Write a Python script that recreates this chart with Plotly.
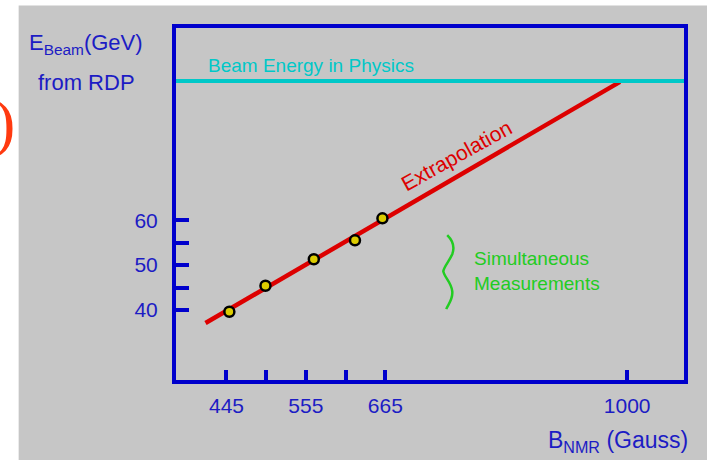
import plotly.graph_objects as go

# Magnetic field (Gauss) vs. beam energy (GeV) from the RDP
meas_B = [449, 499, 566, 623, 661]
meas_E = [39.6, 45.4, 51.3, 55.5, 60.4]

# linear extrapolation up to the physics energy
fit_B = [416, 990]
fit_E = [37.1, 90.8]

physics_E = 91.0

x_tick_vals = [445, 500, 555, 610, 665, 1000]
x_tick_text = ["445", "", "555", "", "665", "1000"]
y_tick_vals = [40, 45, 50, 55, 60]
y_tick_text = ["40", "", "50", "", "60"]

W, H = 707, 460
L, R, T, B = 175.5, 23, 27.5, 80
PW, PH = W - L - R, H - T - B


def px(x):
    return (x - L) / PW


def py(y):
    return (H - B - y) / PH


BLUE = "#0000cc"
TXT_BLUE = "#1c1cc4"
CYAN = "#00c8c8"
RED = "#dd0000"
GREEN = "#22cc22"
FONT = "Liberation Sans, Arial, sans-serif"

fig = go.Figure()

fig.add_trace(go.Scatter(
    x=fit_B, y=fit_E, mode="lines",
    line=dict(color=RED, width=4.5), hoverinfo="skip", showlegend=False,
))
fig.add_trace(go.Scatter(
    x=meas_B, y=meas_E, mode="markers",
    marker=dict(symbol="circle", size=10, color="#dccc00",
                line=dict(color="black", width=2.5)),
    showlegend=False,
))

shapes = [
    # panel background
    dict(type="rect", xref="paper", yref="paper",
         x0=px(18), x1=px(W + 2), y0=py(H + 2), y1=py(5),
         fillcolor="#c6c6c6", line=dict(width=0), layer="below"),
    # physics beam energy
    dict(type="line", xref="paper", yref="y", x0=0, x1=1,
         y0=physics_E, y1=physics_E, line=dict(color=CYAN, width=4)),
    # brace grouping the simultaneous measurements
    dict(type="path", xref="paper", yref="paper",
         path=("M {:.4f},{:.4f} C {:.4f},{:.4f} {:.4f},{:.4f} {:.4f},{:.4f} "
               "C {:.4f},{:.4f} {:.4f},{:.4f} {:.4f},{:.4f} "
               "C {:.4f},{:.4f} {:.4f},{:.4f} {:.4f},{:.4f} "
               "C {:.4f},{:.4f} {:.4f},{:.4f} {:.4f},{:.4f}").format(
             px(447), py(235),
             px(452), py(240), px(455), py(246), px(452), py(254),
             px(449), py(261), px(444), py(266), px(443), py(271),
             px(444), py(277), px(451), py(282), px(452), py(291),
             px(453), py(299), px(448), py(304), px(446), py(309)),
         line=dict(color=GREEN, width=2.5)),
]

annotations = [
    dict(text="E<sub>Beam</sub>(GeV)", x=px(26), y=py(27), xanchor="left", yanchor="top",
         font=dict(size=22, color=TXT_BLUE)),
    dict(text="from RDP", x=px(35), y=py(82), xanchor="left", yanchor="middle",
         font=dict(size=22, color=TXT_BLUE)),
    dict(text=")", x=px(16), y=py(122), xanchor="right", yanchor="middle",
         font=dict(size=64, color="#ff3a10", family="Liberation Serif, Times New Roman, serif")),
    dict(text="B<sub>NMR</sub> (Gauss)", x=px(546), y=py(425), xanchor="left", yanchor="top",
         font=dict(size=23, color=TXT_BLUE)),
    dict(text="Beam Energy in Physics", x=px(206), y=py(65), xanchor="left", yanchor="middle",
         font=dict(size=19, color=CYAN)),
    dict(text="Extrapolation", x=px(456), y=py(155), xanchor="center", yanchor="middle",
         textangle=-29, font=dict(size=21, color=RED)),
    dict(text="Simultaneous<br>Measurements", x=px(472), y=py(271), xanchor="left",
         yanchor="middle", align="left", font=dict(size=19, color=GREEN)),
]
for a in annotations:
    a.update(xref="paper", yref="paper", showarrow=False)

fig.update_layout(
    width=W, height=H,
    margin=dict(l=L, r=R, t=T, b=B, pad=0),
    paper_bgcolor="white",
    plot_bgcolor="rgba(0,0,0,0)",
    font=dict(family=FONT, color=TXT_BLUE),
    shapes=shapes,
    annotations=annotations,
    showlegend=False,
)

fig.update_xaxes(
    range=[375.1, 1078.7], showgrid=False, zeroline=False,
    showline=True, linecolor=BLUE, linewidth=4, mirror=True,
    ticks="inside", ticklen=10, tickwidth=4, tickcolor=BLUE,
    tickvals=x_tick_vals, ticktext=x_tick_text,
    tickfont=dict(size=21, color=TXT_BLUE), ticklabelstandoff=4,
)
fig.update_yaxes(
    range=[24.4, 102.8], showgrid=False, zeroline=False,
    showline=True, linecolor=BLUE, linewidth=4, mirror=True,
    ticks="inside", ticklen=13, tickwidth=4, tickcolor=BLUE,
    tickvals=y_tick_vals, ticktext=y_tick_text,
    tickfont=dict(size=21, color=TXT_BLUE), ticklabelstandoff=10,
)

fig.write_html("out.html")
